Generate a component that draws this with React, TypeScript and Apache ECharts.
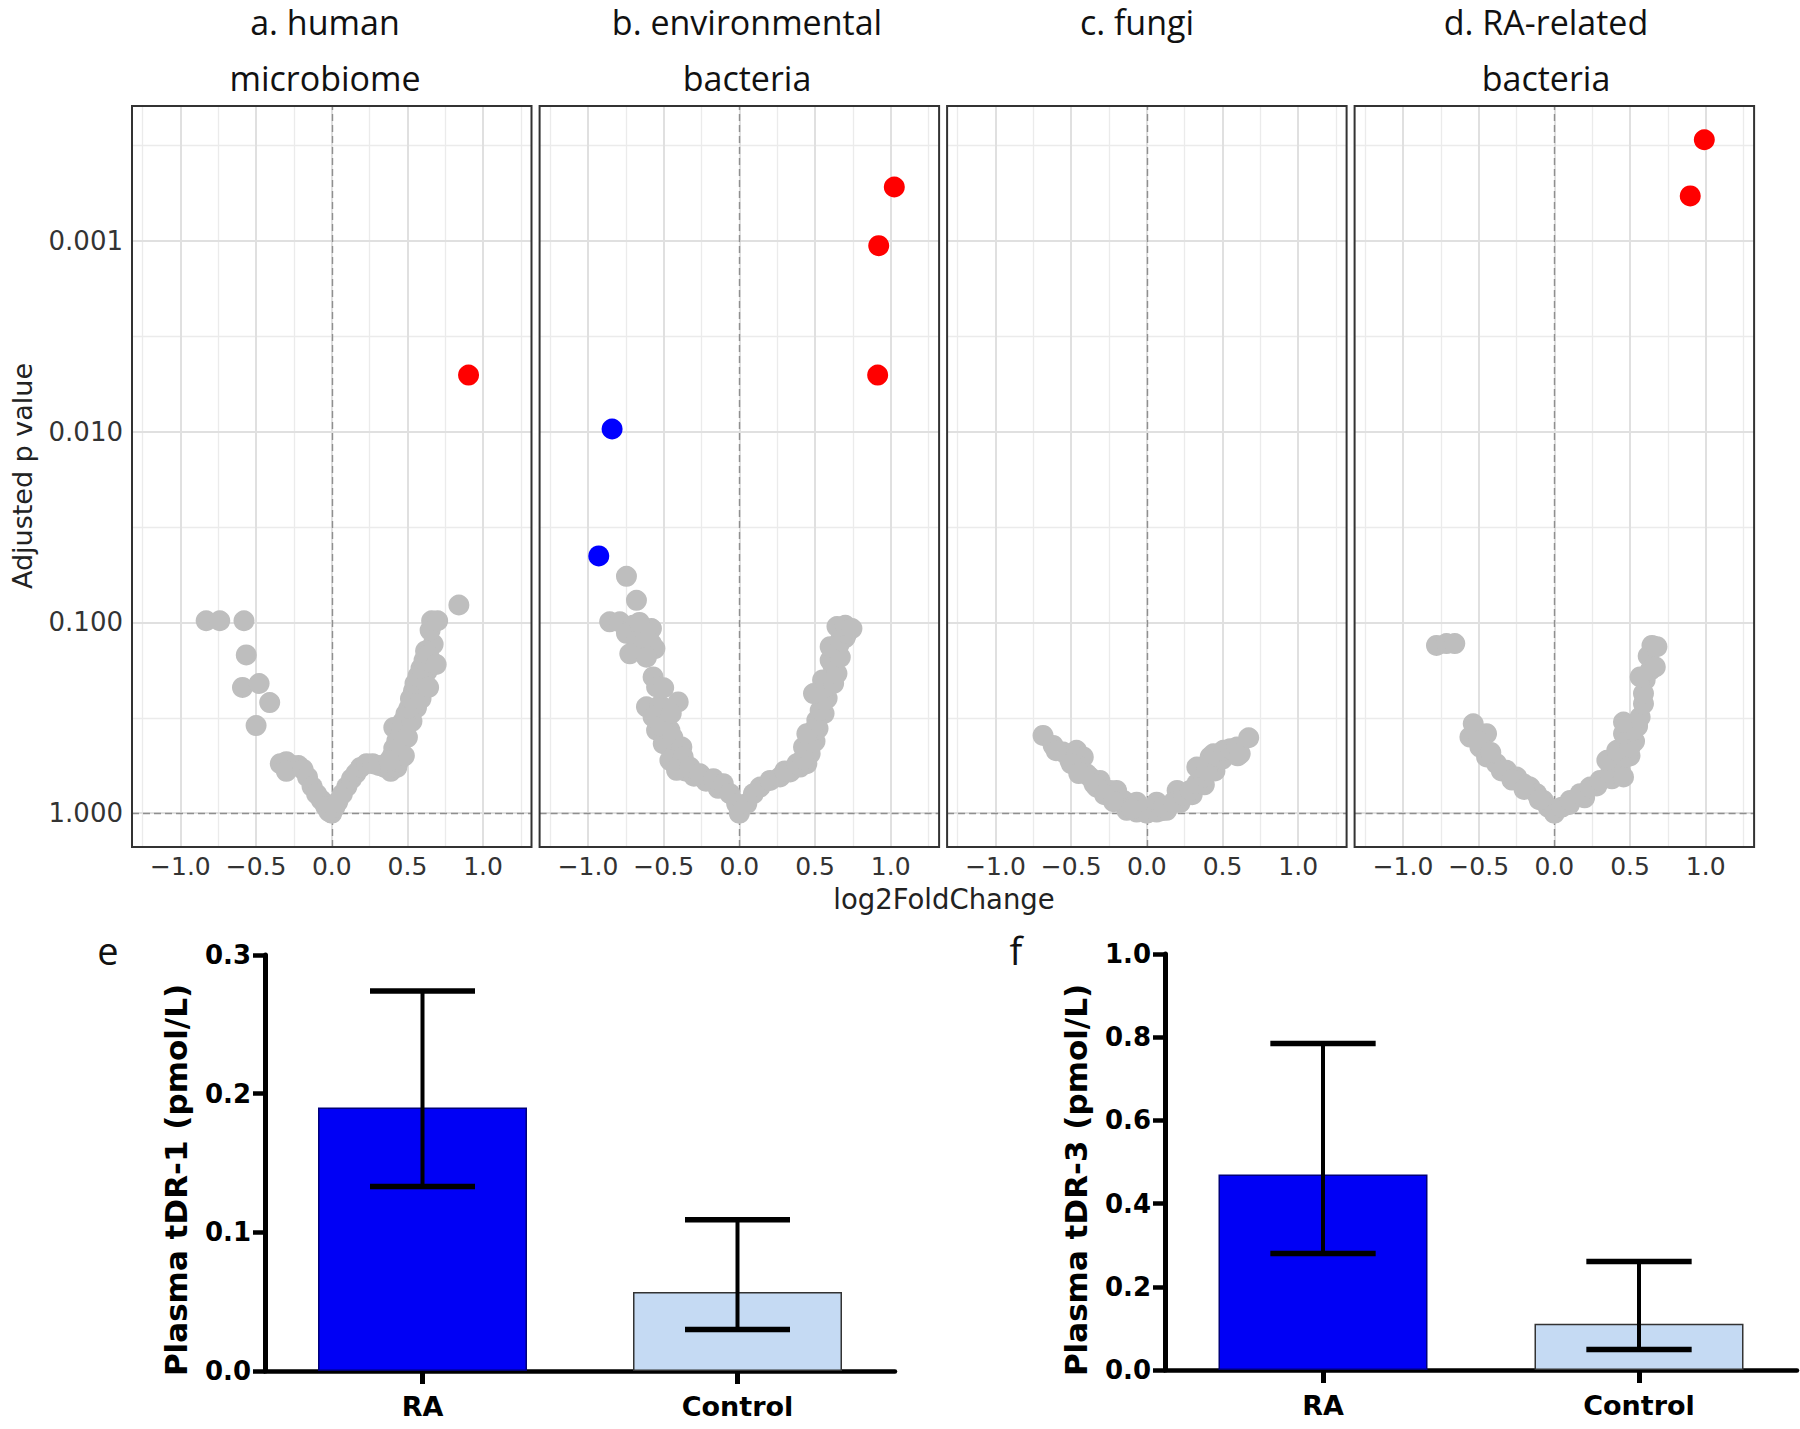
import React, { useEffect, useRef } from "react";
import * as echarts from "echarts";

// ---------------- DATA ----------------
// volcano points: [log2FoldChange, adjusted p value]
const humanGrey: number[][] = [
  [-0.83, 0.098], [-0.74, 0.098], [-0.58, 0.098], [-0.565, 0.148], [-0.59, 0.219], [-0.48, 0.209], [-0.41, 0.263], [-0.5, 0.347],
  [-0.34, 0.55], [-0.3, 0.537], [-0.26, 0.562], [-0.22, 0.562], [-0.3, 0.603], [-0.19, 0.589],
  [-0.16, 0.646], [-0.13, 0.724], [-0.1, 0.794], [-0.07, 0.851], [-0.04, 0.923], [-0.02, 0.977], [0, 1],
  [0.02, 0.933], [0.04, 0.871], [0.07, 0.794], [0.1, 0.724], [0.13, 0.661], [0.16, 0.617], [0.19, 0.575], [0.23, 0.55], [0.27, 0.55], [0.31, 0.562], [0.35, 0.575],
  [0.39, 0.603], [0.43, 0.575], [0.44, 0.537], [0.4, 0.501], [0.41, 0.457], [0.43, 0.417], [0.41, 0.355], [0.46, 0.38], [0.47, 0.331], [0.49, 0.302],
  [0.45, 0.45], [0.5, 0.4], [0.53, 0.33], [0.56, 0.28], [0.58, 0.22], [0.6, 0.2], [0.63, 0.18], [0.66, 0.16], [0.67, 0.13], [0.65, 0.11], [0.48, 0.5], [0.38, 0.53],
  [0.51, 0.282], [0.52, 0.251], [0.54, 0.229], [0.59, 0.251], [0.55, 0.209], [0.57, 0.191], [0.59, 0.174], [0.61, 0.158], [0.62, 0.141], [0.64, 0.148],
  [0.69, 0.166], [0.64, 0.219], [0.66, 0.098], [0.7, 0.098], [0.84, 0.081],
];
const humanUp: number[][] = [[0.904, 0.00505]];
const humanDown: number[][] = [];

const envGrey: number[][] = [
  [-0.746, 0.0573], [-0.68, 0.0766], [-0.857, 0.0993], [-0.79, 0.0993], [-0.702, 0.1035], [-0.625, 0.1076], [-0.581, 0.1076], [-0.746, 0.114],
  [-0.68, 0.124], [-0.724, 0.146], [-0.581, 0.129], [-0.558, 0.137], [-0.614, 0.152], [-0.57, 0.193], [-0.547, 0.218], [-0.614, 0.277],
  [-0.525, 0.272], [-0.404, 0.261], [-0.57, 0.313], [-0.481, 0.313], [-0.547, 0.367], [-0.459, 0.367], [-0.503, 0.432], [-0.415, 0.441],
  [-0.52, 0.35], [-0.44, 0.4], [-0.5, 0.28], [-0.4, 0.48], [-0.36, 0.6], [-0.3, 0.64], [-0.22, 0.68], [-0.14, 0.74],
  [-0.62, 0.12], [-0.66, 0.1], [-0.5, 0.22], [-0.45, 0.3], [-0.38, 0.45],
  [-0.459, 0.528], [-0.371, 0.507], [-0.415, 0.596], [-0.327, 0.573], [-0.26, 0.621], [-0.172, 0.659], [-0.106, 0.7], [-0.062, 0.79], [-0.018, 0.891], [0, 1],
  [0.049, 0.891], [0.093, 0.79], [0.137, 0.729], [0.203, 0.673], [0.269, 0.646], [0.336, 0.608], [0.402, 0.573], [0.446, 0.55], [0.468, 0.488],
  [0.3, 0.6], [0.38, 0.55], [0.52, 0.36], [0.56, 0.3], [0.58, 0.25], [0.62, 0.17], [0.66, 0.13],
  [0.55, 0.2], [0.63, 0.15], [0.7, 0.12], [0.5, 0.42], [0.42, 0.52],
  [0.424, 0.45], [0.468, 0.415], [0.49, 0.368], [0.446, 0.383], [0.512, 0.326], [0.534, 0.289], [0.556, 0.256], [0.49, 0.236], [0.578, 0.218],
  [0.623, 0.209], [0.645, 0.185], [0.6, 0.158], [0.667, 0.152], [0.6, 0.134], [0.667, 0.124], [0.711, 0.114], [0.645, 0.105], [0.7, 0.1035], [0.744, 0.1076],
];
const envUp: number[][] = [[1.024, 0.000522], [0.921, 0.00106], [0.914, 0.00505]];
const envDown: number[][] = [[-0.841, 0.00968], [-0.929, 0.0448]];

const fungiGrey: number[][] = [
  [-0.686, 0.391], [-0.619, 0.441], [-0.553, 0.478], [-0.465, 0.468], [-0.42, 0.507], [-0.509, 0.528], [-0.442, 0.573], [-0.398, 0.621],
  [-0.376, 0.646], [-0.31, 0.673], [-0.332, 0.729], [-0.243, 0.759], [-0.199, 0.822], [-0.155, 0.857], [-0.089, 0.91], [-0.067, 0.986],
  [-0.133, 0.966], [-0.067, 0.875], [-0.2, 0.759], [0, 1], [0.065, 0.986], [0.131, 0.966], [0.065, 0.875], [0.2, 0.759],
  [-0.6, 0.47], [-0.5, 0.55], [-0.45, 0.62], [-0.35, 0.7], [-0.28, 0.8], [-0.22, 0.87], [-0.1, 0.95], [0.1, 0.97], [0.22, 0.88],
  [0.3, 0.8], [0.38, 0.71], [0.45, 0.6], [0.5, 0.52], [0.6, 0.5],
  [0.109, 0.929], [0.175, 0.875], [0.241, 0.807], [0.286, 0.759], [0.33, 0.7], [0.374, 0.646], [0.33, 0.573], [0.396, 0.596],
  [0.418, 0.507], [0.44, 0.488], [0.506, 0.468], [0.551, 0.459], [0.595, 0.45], [0.617, 0.488], [0.673, 0.402],
];
const fungiUp: number[][] = [];
const fungiDown: number[][] = [];

const raGrey: number[][] = [
  [-0.779, 0.132], [-0.713, 0.129], [-0.658, 0.129], [-0.536, 0.34], [-0.558, 0.399], [-0.448, 0.383], [-0.492, 0.45], [-0.448, 0.507],
  [-0.382, 0.55], [-0.316, 0.596], [-0.249, 0.646], [-0.205, 0.7], [-0.161, 0.729], [-0.117, 0.79], [-0.073, 0.857], [-0.04, 0.929], [0, 1],
  [-0.5, 0.42], [-0.42, 0.48], [-0.35, 0.6], [-0.28, 0.67], [-0.2, 0.75], [-0.1, 0.85], [0.1, 0.9], [0.2, 0.83], [0.28, 0.72],
  [0.38, 0.66], [0.42, 0.55], [0.5, 0.5], [0.53, 0.42], [0.55, 0.35], [0.6, 0.2], [0.62, 0.15],
  [0.049, 0.929], [0.104, 0.857], [0.17, 0.79], [0.236, 0.729], [0.302, 0.673], [0.369, 0.621], [0.435, 0.596], [0.457, 0.646], [0.347, 0.528],
  [0.479, 0.507], [0.413, 0.468], [0.501, 0.45], [0.457, 0.383], [0.523, 0.368], [0.457, 0.333], [0.567, 0.313], [0.589, 0.267], [0.589, 0.236],
  [0.567, 0.193], [0.634, 0.178], [0.667, 0.171], [0.645, 0.132], [0.678, 0.134],
];
const raUp: number[][] = [[0.991, 0.000295], [0.898, 0.000581]];
const raDown: number[][] = [];

const panelTitles: string[][] = [
  ["a. human", "microbiome"],
  ["b. environmental", "bacteria"],
  ["c. fungi"],
  ["d. RA-related", "bacteria"],
];
const xTickValues = [-1, -0.5, 0, 0.5, 1];
const pTickValues = [1, 0.1, 0.01, 0.001];

const barCategories = ["RA", "Control"];
const tdr1Value = [0.19, 0.057];
const tdr1Low = [0.133, 0.03];
const tdr1High = [0.274, 0.109];
const tdr3Value = [0.47, 0.111];
const tdr3Low = [0.28, 0.049];
const tdr3High = [0.785, 0.261];

// ---------------- LAYOUT / STYLE ----------------
const W = 1800;
const H = 1429;
const VOL_LEFT = [132, 539.6, 947.1, 1354.6];
const VOL_TOP = 106;
const VOL_W = 399.5;
const VOL_H = 741;
const X_MIN = -1.32;
const X_MAX = 1.32;
const Y_MIN = -0.177;
const Y_MAX = 3.707;
const TITLE_X = [325, 747, 1137, 1546];
const PT = 21;

const GREY = "#BEBEBE";
const RED = "#FF0000";
const BLUE = "#0000FF";
const BAR_FILL = ["#0000F5", "#C5DAF3"];
const BAR_BORDER = ["#00007a", "#333333"];

const nlp = (p: number) => -Math.log10(p);
const toPts = (arr: number[][]) => arr.map(([x, p]) => [x, nlp(p)]);
const fmtX = (v: number) => {
  const s = Math.abs(v).toFixed(1);
  return v < -1e-9 ? "\u2212" + s : s;
};

const App: React.FC = () => {
  const ref = useRef<HTMLDivElement>(null);
  useEffect(() => {
    document.body.style.margin = "0";
    if (!ref.current) return;
    const chart = echarts.init(ref.current, undefined, { renderer: "svg" });

    const groups = [
      { grey: humanGrey, up: humanUp, down: humanDown },
      { grey: envGrey, up: envUp, down: envDown },
      { grey: fungiGrey, up: fungiUp, down: fungiDown },
      { grey: raGrey, up: raUp, down: raDown },
    ];

    const yTickVals = pTickValues.map(nlp);
    const xMinor = [-1.25, -0.75, -0.25, 0.25, 0.75, 1.25];
    const yMinor = [0.5, 1.5, 2.5, 3.5];
    const minorStyle = { color: "#ebebeb", width: 1.3, type: "solid" };
    const majorStyle = { color: "#e0e0e0", width: 2, type: "solid" };
    const dashStyle = { color: "#8f8f8f", width: 1.4, type: [7, 4] };

    const grids: any[] = [];
    const xAxes: any[] = [];
    const yAxes: any[] = [];
    const series: any[] = [];

    groups.forEach((g, i) => {
      grids.push({
        left: VOL_LEFT[i], top: VOL_TOP, width: VOL_W, height: VOL_H,
        show: true, borderColor: "#333333", borderWidth: 2, backgroundColor: "transparent",
        z: 10, outerBoundsMode: "none",
      });
      xAxes.push({
        type: "value", gridIndex: i, min: X_MIN, max: X_MAX,
        axisLine: { show: false }, splitLine: { show: false },
        axisTick: { show: true, customValues: xTickValues, length: 6, lineStyle: { color: "#333", width: 1.5 } },
        axisLabel: {
          show: true, customValues: xTickValues, formatter: fmtX,
          fontFamily: "DejaVu Sans", fontSize: 25, color: "#333", margin: 7,
        },
      });
      yAxes.push({
        type: "value", gridIndex: i, min: Y_MIN, max: Y_MAX,
        axisLine: { show: false }, splitLine: { show: false },
        axisTick: { show: i === 0, customValues: yTickVals, length: 6, lineStyle: { color: "#333", width: 1.5 } },
        axisLabel: {
          show: i === 0, customValues: yTickVals,
          formatter: (v: number) => Math.pow(10, -v).toFixed(3),
          fontFamily: "DejaVu Sans", fontSize: 26, color: "#333", margin: 9,
        },
      });
      series.push({
        type: "scatter", xAxisIndex: i, yAxisIndex: i, data: toPts(g.grey),
        symbolSize: PT, itemStyle: { color: GREY, opacity: 1 }, silent: true, z: 3,
        markLine: {
          silent: true, z: 1, symbol: ["none", "none"], label: { show: false },
          emphasis: { disabled: true },
          data: [
            ...xMinor.map((v) => ({ xAxis: v, lineStyle: minorStyle })),
            ...yMinor.map((v) => ({ yAxis: v, lineStyle: minorStyle })),
            ...xTickValues.map((v) => ({ xAxis: v, lineStyle: majorStyle })),
            ...yTickVals.map((v) => ({ yAxis: v, lineStyle: majorStyle })),
            { xAxis: 0, lineStyle: dashStyle },
            { yAxis: 0, lineStyle: dashStyle },
          ],
        },
      });
      series.push({
        type: "scatter", xAxisIndex: i, yAxisIndex: i, data: toPts(g.down),
        symbolSize: PT, itemStyle: { color: BLUE, opacity: 1 }, silent: true, z: 4,
      });
      series.push({
        type: "scatter", xAxisIndex: i, yAxisIndex: i, data: toPts(g.up),
        symbolSize: PT, itemStyle: { color: RED, opacity: 1 }, silent: true, z: 4,
      });
    });

    // bar charts
    const bars = [
      { left: 265, top: 955, width: 630, height: 416, max: 0.3, interval: 0.1, val: tdr1Value, lo: tdr1Low, hi: tdr1High },
      { left: 1165, top: 954, width: 632, height: 416, max: 1.0, interval: 0.2, val: tdr3Value, lo: tdr3Low, hi: tdr3High },
    ];
    bars.forEach((b, k) => {
      const gi = 4 + k;
      grids.push({ left: b.left, top: b.top, width: b.width, height: b.height, show: false, outerBoundsMode: "none" });
      xAxes.push({
        type: "category", gridIndex: gi, data: barCategories,
        axisLine: { show: true, lineStyle: { color: "#000", width: 4.5 } },
        axisTick: { show: true, alignWithLabel: true, length: 13, lineStyle: { color: "#000", width: 5 } },
        axisLabel: { fontFamily: "DejaVu Sans", fontWeight: "bold", fontSize: 27, color: "#000", margin: 22 },
        splitLine: { show: false },
      });
      yAxes.push({
        type: "value", gridIndex: gi, min: 0, max: b.max, interval: b.interval,
        axisLine: { show: true, lineStyle: { color: "#000", width: 5 } },
        axisTick: { show: true, length: 12, lineStyle: { color: "#000", width: 4.5 } },
        axisLabel: {
          formatter: (v: number) => v.toFixed(1),
          fontFamily: "DejaVu Sans", fontWeight: "bold", fontSize: 26, color: "#000", margin: 14,
        },
        splitLine: { show: false },
      });
      series.push({
        type: "bar", xAxisIndex: gi, yAxisIndex: gi, barWidth: 209, silent: true,
        data: b.val.map((v, i) => ({
          value: v,
          itemStyle: { color: BAR_FILL[i], borderColor: BAR_BORDER[i], borderWidth: 1.5 },
        })),
        z: 2,
      });
      series.push({
        type: "custom", xAxisIndex: gi, yAxisIndex: gi, silent: true, z: 5,
        data: b.val.map((_, i) => [i, b.lo[i], b.hi[i]]),
        encode: { x: 0, y: [1, 2] },
        renderItem: (params: any, api: any) => {
          const lo = api.coord([api.value(0), api.value(1)]);
          const hi = api.coord([api.value(0), api.value(2)]);
          const half = api.size([1, 0])[0] / 6;
          return {
            type: "group",
            children: [
              { type: "line", shape: { x1: lo[0], y1: lo[1], x2: hi[0], y2: hi[1] }, style: { stroke: "#000", lineWidth: 4 } },
              { type: "line", shape: { x1: hi[0] - half, y1: hi[1], x2: hi[0] + half, y2: hi[1] }, style: { stroke: "#000", lineWidth: 5.5 } },
              { type: "line", shape: { x1: lo[0] - half, y1: lo[1], x2: lo[0] + half, y2: lo[1] }, style: { stroke: "#000", lineWidth: 5.5 } },
            ],
          };
        },
      });
    });

    const txt = (text: string, x: number, y: number, font: any, rotation = 0) => ({
      type: "text", x, y, rotation, silent: true, z: 20,
      style: {
        text, fill: font.fill || "#1a1a1a",
        fontFamily: font.family, fontSize: font.size, fontWeight: font.weight || "normal",
        align: "center", verticalAlign: "middle", textAlign: "center", textVerticalAlign: "middle",
      },
    });

    const graphic: any[] = [];
    panelTitles.forEach((lines, i) => {
      lines.forEach((line, j) => {
        graphic.push(txt(line, TITLE_X[i], 22 + j * 56, { family: "Open Sans", size: 34, fill: "#111" }));
      });
    });
    graphic.push(txt("log2FoldChange", 944, 899, { family: "DejaVu Sans", size: 27.5, fill: "#222" }));
    graphic.push(txt("Adjusted p value", 22, 476, { family: "DejaVu Sans", size: 27, fill: "#222" }, Math.PI / 2));
    graphic.push(txt("e", 108, 950, { family: "Open Sans", size: 38, fill: "#111" }));
    graphic.push(txt("f", 1016, 950, { family: "Open Sans", size: 38, fill: "#111" }));
    graphic.push(txt("Plasma tDR-1 (pmol/L)", 176, 1180, { family: "DejaVu Sans", size: 31, weight: "bold", fill: "#000" }, Math.PI / 2));
    graphic.push(txt("Plasma tDR-3 (pmol/L)", 1076, 1180, { family: "DejaVu Sans", size: 31, weight: "bold", fill: "#000" }, Math.PI / 2));

    chart.setOption({
      animation: false,
      backgroundColor: "#ffffff",
      grid: grids,
      xAxis: xAxes,
      yAxis: yAxes,
      series,
      graphic,
    });
    return () => chart.dispose();
  }, []);
  return <div ref={ref} style={{ width: W, height: H }} />;
};

export default App;
